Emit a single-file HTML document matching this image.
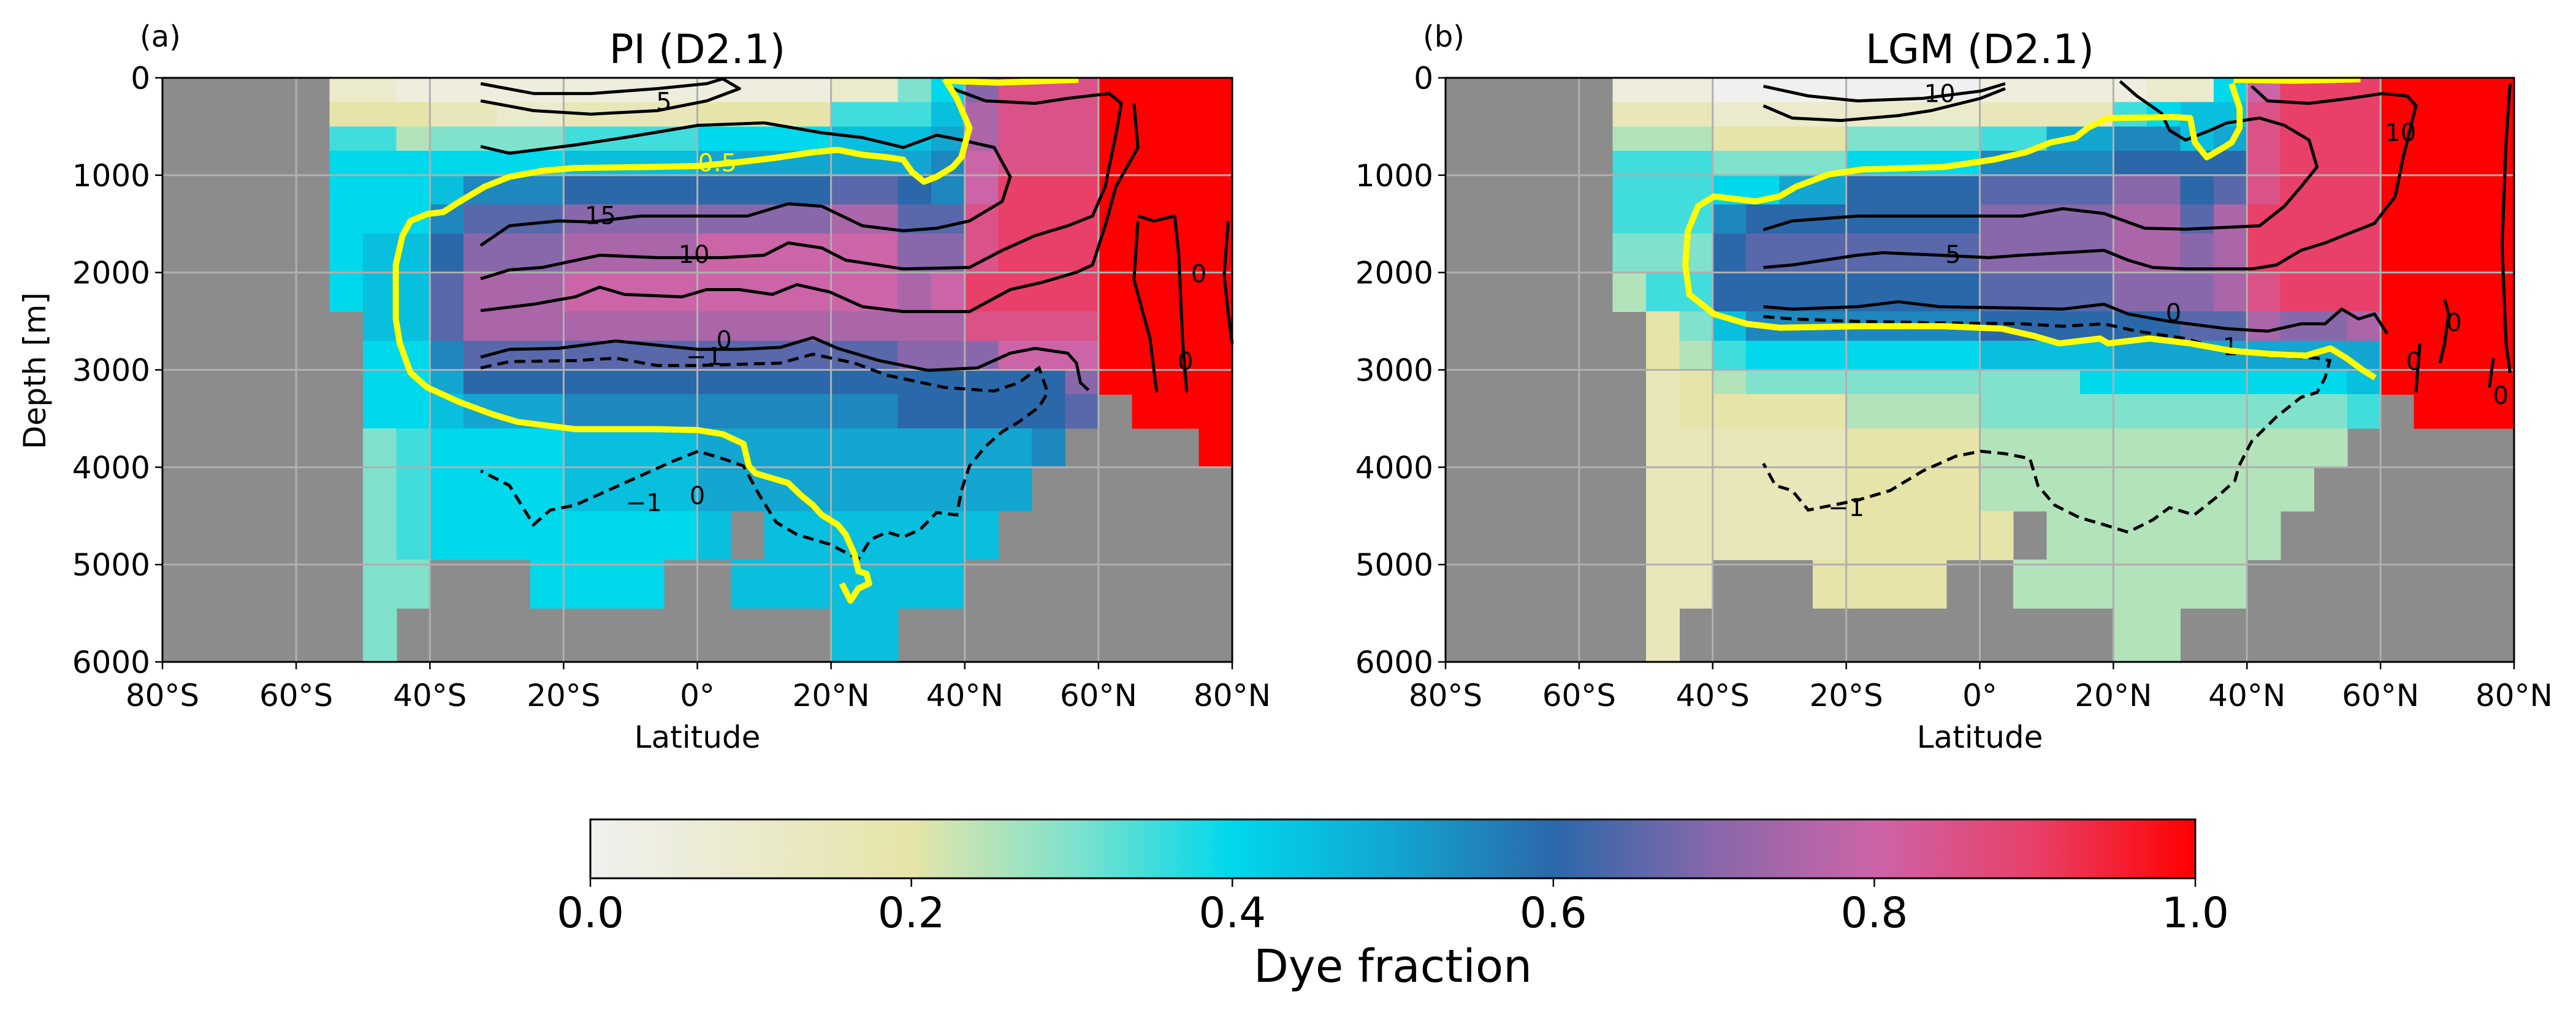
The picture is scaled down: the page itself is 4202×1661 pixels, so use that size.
<!DOCTYPE html>
<html><head><meta charset="utf-8">
<style>
html,body{margin:0;padding:0;background:#fff;}
svg{display:block;font-family:"DejaVu Sans","Liberation Sans",sans-serif;}
</style></head>
<body>
<svg id="fig" width="4202" height="1661" viewBox="0 0 4202 1661" xmlns="http://www.w3.org/2000/svg">
<defs>
<linearGradient id="cmap" x1="0" x2="1" y1="0" y2="0">
<stop offset="0" stop-color="#f0f0f0"/>
<stop offset="0.2" stop-color="#e6e4a8"/>
<stop offset="0.3" stop-color="#80e2cc"/>
<stop offset="0.4" stop-color="#00d8ec"/>
<stop offset="0.5" stop-color="#12a6d0"/>
<stop offset="0.6" stop-color="#2a68aa"/>
<stop offset="0.7" stop-color="#8868aa"/>
<stop offset="0.8" stop-color="#cc64a8"/>
<stop offset="0.9" stop-color="#e84068"/>
<stop offset="1" stop-color="#ff0000"/>
</linearGradient>
</defs>
</svg>
<script>
// ---------- data ----------
const depthEdges = [0,250,500,750,1000,1300,1600,2000,2400,2700,3000,3250,3600,4000,4450,4950,5450,6000];
const latEdgeStart = -80, latStep = 5; // 32 columns of 5 degrees
// field encoding: A..U => 0..1 in steps of 0.05, '.' => land
const fieldPI = [
".....CCBBBBBBBBBBBBBCCGIORRRUUUU",
".....EEEDDCCDDDDEEEEHHHJPRRRUUUU",
".....HHFGGGGHHHHIIIIJJJKPRRRUUUU",
".....IIIIIIIJJJJKKKKKKKLQRRRUUUU",
".....IIIJLLLMMMMMMMMNNMLQSSSUUUU",
".....IIILNNNOOOOOOOOPPNNRSSSUUUU",
".....IJJMOOOPPPPQQQQQQOORSSSUUUU",
".....IJJNPPPQQQQQQQQQQPQSSSSUUUU",
"......JJNPPPPPPPPPPPPPPPRRRRUUUU",
"......IILNNNNNNNNNNNNNOOOQQQUUUU",
"......IIKMMMMMMMMMMMMMMMMMMOUUUU",
"......IIJKKKLLLLLLLLLLMMMMMN.UUU",
"......GHIIIIJJJJKKKKKKKKKKL....U",
"......GHIIIIJJJJKKKKKKKKKK......",
"......GHIIIIIIIIJ.JJJJJJJ.......",
"......GG...IIII..JJJJJJJ........",
"......G.............JJ.........."
];
const fieldLGM = [
".....BBBAAAAAAAABBBBBCCIQSSSUUUU",
".....DDDCCCCCCCCDDDDHIJJRSSSUUUU",
".....FFFEEEEGGGGHHKKLLJKRSSSUUUU",
".....HHHGGGGIIIILLLLMMMMRSSSUUUU",
".....HHHIIKKMMMMNNNNOOMNRSSSUUUU",
".....HHHLMMMMMMMOOOOPPNPSSSSUUUU",
".....GGGMNNNNNNNOOOOPPOPSSSSUUUU",
".....FHHMMMMMMMMNNNNOOOPRSSSUUUU",
"......EGJLLLLLLLMMMMMMNNPOOPUUUU",
"......EFHIIIIIIIJJJJKKKKKKKKUUUU",
"......DEFGGGGGGGGGGIIIIIIIIJUUUU",
"......DEEEEEFFFFGGGGGGGGGGGH.UUU",
"......DDDDDDEEEEFFFFFFFFFFF.....",
"......DDDDDDEEEEFFFFFFFFFF......",
"......DDDDDDEEEEE.FFFFFFF.......",
"......DD...EEEE..FFFFFFF........",
"......D.............FF.........."
];
// 0.5 dye-fraction contours (lat, depth)
const yellowPI = [[37,10],[38.8,211],[40.7,513],[39.5,816],[38.2,916],[35.8,1017],[33.9,1067],[32.1,967],[30.8,841],[28.4,816],[24.7,790],[21,740],[17.3,765],[11.2,826],[6.3,866],[0.1,906],[-7.3,916],[-18.3,926],[-23.2,956],[-28.1,1017],[-31.8,1118],[-35.5,1269],[-38,1379],[-40.4,1399],[-42.9,1470],[-44.1,1621],[-45.1,1923],[-45.1,2477],[-44.5,2728],[-42.9,3030],[-40.4,3181],[-35.5,3333],[-30.6,3458],[-26.9,3534],[-18.3,3609],[-6,3609],[0.1,3619],[3.8,3660],[6.9,3760],[7.7,3987],[8.7,4062],[13.6,4163],[15.5,4289],[17.3,4390],[18.6,4490],[21,4591],[22.2,4692],[23.5,4893],[24.1,5069],[25.3,5094],[25.7,5195],[24.1,5245],[22.9,5371],[21.6,5195]];
const yellowPItop = [[37,30],[45,50],[57,20]];
const yellowLGM = [[37.7,60],[38.9,312],[38.9,513],[37.7,664],[36.5,715],[34,816],[32.2,664],[31.5,413],[29.1,403],[19.2,413],[16.2,513],[14.3,614],[10.6,664],[6.9,765],[2,841],[-5.4,916],[-17.6,941],[-22.6,992],[-27.5,1118],[-30,1218],[-33.6,1269],[-39.8,1218],[-42.2,1319],[-43.7,1571],[-44.1,1923],[-43.5,2225],[-39.8,2426],[-34.9,2527],[-30,2567],[-17.6,2552],[-5.4,2552],[3.3,2577],[8.2,2653],[11.9,2728],[18,2678],[19.2,2728],[25.4,2678],[31.5,2728],[37.7,2804],[43.8,2839],[48.8,2854],[52.5,2779],[54.9,2880],[57.4,3005],[59.2,3081]];
const yellowLGMtop = [[38,20],[47,30],[57,15]];
// streamfunction contours (lat, depth)
const solidPI = [
[[-32.4,60],[-24.5,161],[-15.9,161],[-6,111],[1.4,60],[3.8,10]],
[[-32.4,237],[-24.5,337],[-15.9,373],[-6,337],[1.4,237],[6.3,111],[3.8,10]],
[[-32.4,705],[-28.1,775],[-18.3,690],[-10.9,614],[0.1,488],[10,463],[18.6,564],[24.7,614],[30.8,715],[35.8,589],[39.5,639],[44.4,715],[46.8,1017],[45.6,1269],[40.7,1470],[35.8,1545],[30.8,1571],[24.7,1520],[18.6,1319],[13.6,1294],[7.5,1420],[0.1,1420],[-8.5,1420],[-15.9,1480],[-20.8,1470],[-28.1,1520],[-32.4,1722]],
[[-32.4,2064],[-28.1,1973],[-23.2,1948],[-14.6,1822],[-6,1847],[3.8,1847],[10,1822],[13.6,1696],[18.6,1747],[22.2,1873],[30.8,1963],[40.7,1948],[45.6,1772],[50.5,1621],[55.4,1520],[59.1,1420],[61,1118],[62.8,513],[63.4,262],[61.6,161],[55.4,211],[50.5,262],[43.1,237],[38.2,111]],
[[-32.4,2391],[-24.5,2326],[-18.3,2250],[-14.6,2150],[-10.9,2225],[-2.3,2250],[1.4,2175],[6.3,2175],[11.2,2225],[14.9,2124],[19.8,2200],[24.7,2351],[30.8,2401],[40.7,2401],[46.8,2175],[51.7,2099],[56.7,1998],[59.1,1923],[61,1520],[62.6,1118],[65.9,715],[65.3,262]],
[[-32.4,2869],[-28.1,2789],[-20.8,2779],[-12.2,2703],[0.1,2789],[6.3,2789],[12.4,2769],[17.3,2668],[21,2779],[27.2,2905],[34.5,3005],[41.9,2980],[46.8,2829],[50.5,2779],[55.4,2829],[56.7,2930],[57.3,3131],[58.5,3207]],
[[65.9,1420],[68.3,1470],[71.4,1420],[72,1822],[72.6,2728],[73.2,3232]],
[[65.9,1470],[65.3,2074],[67.7,2678],[68.7,3232]],
[[79.4,1470],[78.8,2024],[79.4,2426],[80,2728]]
];
const dashedPI = [
[[-32.4,2980],[-28.1,2915],[-18.3,2905],[-12.2,2880],[-6,2955],[0.1,2955],[12.4,2930],[17.3,2839],[23.5,2930],[28.4,3056],[37,3181],[44.4,3217],[48.1,3131],[51.1,2980],[52.4,3232],[51.1,3383],[48.1,3534],[45.6,3635],[43.1,3786],[40.7,3987],[39.5,4239],[38.8,4490],[35.8,4465],[33.3,4641],[30.8,4717],[28.4,4667],[25.9,4742],[24.1,4943],[19.8,4792],[14.9,4692],[11.8,4566],[9.3,4289],[6.9,3987],[3.8,3911],[0.1,3836],[-3.6,3937],[-8.5,4088],[-18.3,4390],[-22,4440],[-24.5,4591],[-28.1,4188],[-32.4,4037]]
];
const solidLGM = [
[[-32.4,86],[-25.7,186],[-18.3,237],[-8.5,211],[0.1,136],[3.8,60]],
[[-32.4,287],[-28.1,413],[-20.8,438],[-12.2,388],[-7.3,337],[0.1,211],[3.8,111]],
[[-32.4,1561],[-28.1,1470],[-18.3,1420],[0.1,1420],[6.3,1420],[12.4,1344],[18.6,1394],[24.7,1545],[30.8,1555],[41.9,1520],[45.6,1319],[48.1,1118],[50.5,916],[49.3,639],[45.6,488],[41.9,413],[37,463],[34.5,539],[30.8,639],[28.4,539],[27.2,362],[23.5,186],[21,35]],
[[-32.4,1948],[-28.1,1923],[-18.3,1822],[-14.6,1797],[-6,1822],[1.4,1847],[6.3,1822],[12.4,1797],[18.6,1772],[22.2,1873],[25.9,1948],[30.8,1963],[40.7,1963],[44.4,1923],[48.1,1772],[51.7,1696],[55.4,1595],[59.1,1495],[62.2,1218],[63.4,816],[65.3,287],[64,186],[60.3,161],[55.4,211],[49.3,262],[43.1,237],[40.7,86]],
[[-32.4,2351],[-28.1,2376],[-18.3,2351],[-12.2,2300],[-6,2351],[6.3,2366],[12.4,2376],[18.6,2326],[22.2,2426],[28.4,2502],[37,2577],[43.1,2603],[48.1,2527],[51.7,2527],[54.2,2376],[56.7,2477],[59.1,2426],[61,2628]],
[[69.6,2275],[70.2,2426],[69.6,2728],[68.9,2930]],
[[76.9,2880],[76.3,3181]],
[[65.9,2728],[65.3,3232]],
[[79.4,60],[78.8,664],[78.2,1722],[78.8,2728],[79.4,3030]]
];
const dashedLGM = [
[[-32.4,2452],[-28.1,2477],[-18.3,2502],[-6,2517],[6.3,2527],[12.4,2552],[18.6,2527],[23.5,2603],[30.8,2678],[37,2804],[43.1,2854],[50.5,2880],[52.4,2905],[51.7,3081],[50.5,3232],[48.1,3282],[44.4,3483],[40.7,3735],[38.8,3987],[38.2,4138],[35.8,4289],[32.1,4490],[28.4,4415],[25.9,4541],[22.2,4667],[18.6,4591],[14.9,4516],[11.2,4390],[8.7,4188],[7.5,3911],[3.8,3861],[0.1,3836],[-3.6,3887],[-8.5,4037],[-13.4,4239],[-18.3,4339],[-25.7,4440],[-28.1,4239],[-30.6,4188],[-32.4,3962]]
];
// contour labels: [lat, depth, text]
const labelsPI = [[-14.5,1500,"15"],[-0.5,1900,"10"],[4,2780,"0"],[1,2950,"−1"],[-8,4450,"−1"],[0,4380,"0"],[75,2100,"0"],[73,3000,"0"],[-5,330,"5"]];
const labelsLGM = [[-4,1900,"5"],[29,2500,"0"],[36,2850,"−1"],[-20,4500,"−1"],[-6,250,"10"],[63,650,"10"],[71,2600,"0"],[65,3000,"0"],[78,3350,"0"]];

// ---------- helpers ----------
const svg = document.getElementById('fig');
const NS = 'http://www.w3.org/2000/svg';
const cmapStops = [[0,[240,240,240]],[0.2,[230,228,168]],[0.3,[128,226,204]],[0.4,[0,216,236]],[0.5,[18,166,208]],[0.6,[42,104,170]],[0.7,[136,104,170]],[0.8,[204,100,168]],[0.9,[232,64,104]],[1,[255,0,0]]];
function cmap(v){
  for(let i=1;i<cmapStops.length;i++){
    if(v<=cmapStops[i][0]){
      const [a,ca]=cmapStops[i-1],[b,cb]=cmapStops[i];
      const t=(v-a)/(b-a);
      return 'rgb('+ca.map((c,k)=>Math.round(c+(cb[k]-c)*t)).join(',')+')';
    }
  }
  return 'rgb(255,0,0)';
}
function el(tag, attrs, parent){
  const e=document.createElementNS(NS,tag);
  for(const k in attrs) e.setAttribute(k,attrs[k]);
  (parent||svg).appendChild(e);
  return e;
}
const Y0=127, Y1=1080;
function makePanel(px0, px1, field, yellow, yellowTop, solids, dashes, labels, title, letter, key, showYLabel){
  const xs = lat => px0 + (lat+80)/160*(px1-px0);
  const ys = d => Y0 + d/6000*(Y1-Y0);
  const g = el('g',{});
  
  
  const bg = el('rect',{x:px0,y:Y0,width:px1-px0,height:Y1-Y0,fill:'#8c8c8c'},g);
  
  
  const hm = el('g',{'shape-rendering':'crispEdges'},g);
  
  
  field.forEach((row,r)=>{
    for(let c=0;c<row.length;c++){
      const ch=row[c]; if(ch==='.') continue;
      const v=(ch.charCodeAt(0)-65)/20;
      const x0=xs(latEdgeStart+c*latStep), x1=xs(latEdgeStart+(c+1)*latStep);
      const y0=ys(depthEdges[r]), y1=ys(depthEdges[r+1]);
      const cell = el('rect',{x:x0,y:y0,width:x1-x0+0.6,height:y1-y0+0.6,fill:cmap(v)},hm);
      
      
    }
  });
  // grid
  for(let lat=-80;lat<=80;lat+=20){
    const l=el('line',{x1:xs(lat),x2:xs(lat),y1:Y0,y2:Y1,stroke:'#b0b0b0','stroke-width':3},g);
    
    
  }
  for(let d=0;d<=6000;d+=1000){
    const l=el('line',{x1:px0,x2:px1,y1:ys(d),y2:ys(d),stroke:'#b0b0b0','stroke-width':3},g);
    
    
  }
  const pts = arr => arr.map(p=>xs(p[0]).toFixed(1)+','+ys(p[1]).toFixed(1)).join(' ');
  solids.forEach(s=>{
    const p=el('polyline',{points:pts(s),fill:'none',stroke:'#000','stroke-width':5,'stroke-linejoin':'round'},g);
    
    
  });
  dashes.forEach(s=>{
    const p=el('polyline',{points:pts(s),fill:'none',stroke:'#000','stroke-width':5,'stroke-dasharray':'18,10'},g);
    
    
  });
  labels.forEach(lb=>{
    const t=el('text',{x:xs(lb[0]),y:ys(lb[1]),'font-size':40,'text-anchor':'middle',fill:'#000'},g);
    t.textContent=lb[2];
    
    
  });
  [yellow,yellowTop].forEach(s=>{
    const p=el('polyline',{points:pts(s),fill:'none',stroke:'#ffff00','stroke-width':10,'stroke-linejoin':'round'},g);
    
    
  });
  if(key==='pi'){
    const t=el('text',{x:xs(3),y:ys(960),'font-size':40,'text-anchor':'middle',fill:'#ffff00'},g);
    t.textContent='0.5';
    
    
  }
  const frame=el('rect',{x:px0,y:Y0,width:px1-px0,height:Y1-Y0,fill:'none',stroke:'#000','stroke-width':3},g);
  
  
  const xlab=['80°S','60°S','40°S','20°S','0°','20°N','40°N','60°N','80°N'];
  xlab.forEach((s,i)=>{
    const lat=-80+i*20;
    el('line',{x1:xs(lat),x2:xs(lat),y1:Y1,y2:Y1+12,stroke:'#000','stroke-width':2.5},g);
    const t=el('text',{x:xs(lat),y:1152,'font-size':50,'text-anchor':'middle'},g);
    t.textContent=s;
    
    
  });
  for(let d=0;d<=6000;d+=1000){
    el('line',{x1:px0-12,x2:px0,y1:ys(d),y2:ys(d),stroke:'#000','stroke-width':2.5},g);
    const t=el('text',{x:px0-20,y:ys(d)+18,'font-size':50,'text-anchor':'end'},g);
    t.textContent=String(d);
    
    
  }
  const xt=el('text',{x:(px0+px1)/2,y:1220,'font-size':50,'text-anchor':'middle'},g);
  xt.textContent='Latitude';
  
  
  if(showYLabel){
    const yt=el('text',{x:0,y:0,'font-size':50,'text-anchor':'middle',transform:'translate(74,605) rotate(-90)'},g);
    yt.textContent='Depth [m]';
    
    
  }
  const tt=el('text',{x:(px0+px1)/2,y:103,'font-size':66,'text-anchor':'middle'},g);
  tt.textContent=title;
  
  
  const lt=el('text',{x:px0-37,y:76,'font-size':48},g);
  lt.textContent=letter;
  
  
}
makePanel(265,2010,fieldPI,yellowPI,yellowPItop,solidPI,dashedPI,labelsPI,'PI (D2.1)','(a)','pi',true);
makePanel(2358,4101,fieldLGM,yellowLGM,yellowLGMtop,solidLGM,dashedLGM,labelsLGM,'LGM (D2.1)','(b)','lgm',false);

// colorbar
const cbTicks=[0,0.2,0.4,0.6,0.8,1.0];
const cbX0=963, cbX1=3581, cbY0=1337, cbY1=1433;
const cb=el('g',{});


el('rect',{x:cbX0,y:cbY0,width:cbX1-cbX0,height:cbY1-cbY0,fill:'url(#cmap)',stroke:'#000','stroke-width':3},cb);
cbTicks.forEach(v=>{
  const x=cbX0+v*(cbX1-cbX0);
  el('line',{x1:x,x2:x,y1:cbY1,y2:cbY1+14,stroke:'#000','stroke-width':2.5},cb);
  const t=el('text',{x:x,y:1513,'font-size':69,'text-anchor':'middle'},cb);
  t.textContent=v.toFixed(1);
  
  
});
const cbt=el('text',{x:(cbX0+cbX1)/2,y:1602,'font-size':74,'text-anchor':'middle'},cb);
cbt.textContent='Dye fraction';


</script>
</body></html>
